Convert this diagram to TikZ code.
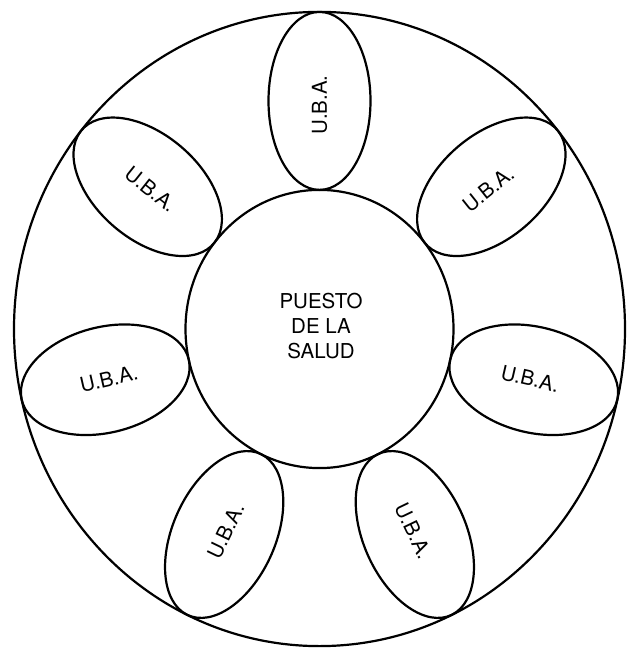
\documentclass[tikz,border=0pt]{standalone}
\usepackage{fontspec}
\newfontfamily\lblfont{TeX Gyre Heros}
\begin{document}
\begin{tikzpicture}[x=1pt,y=1pt, line width=2.2pt,
  uba/.style={font=\lblfont\fontsize{20.5}{22}\selectfont, inner sep=0pt},
  hub/.style={font=\lblfont\fontsize{20.5}{25}\selectfont, align=center, inner sep=0pt}]
\useasboundingbox (0,0) rectangle (633,650);
\begin{scope}[shift={(319.5,321)}, yscale=1.038]
  \draw (0,0) circle[radius=305.5];
  \draw (0,0) circle[radius=134];
  \node[hub] (puesto) at (1.5,2.4) {PUESTO\\DE LA\\SALUD};
  \foreach \i in {0,...,6}{
    \pgfmathsetmacro\a{90-\i*360/7}
    \pgfmathsetmacro\t{ifthenelse(\a<-90, \a+180, \a)}
    \draw (\a:219.75) ellipse[x radius=85.75, y radius=51, rotate=\a];
    \node[uba, rotate=\t] (u\i) at (\a:216) {U.B.A.};
  }
\end{scope}
\end{tikzpicture}
\end{document}
